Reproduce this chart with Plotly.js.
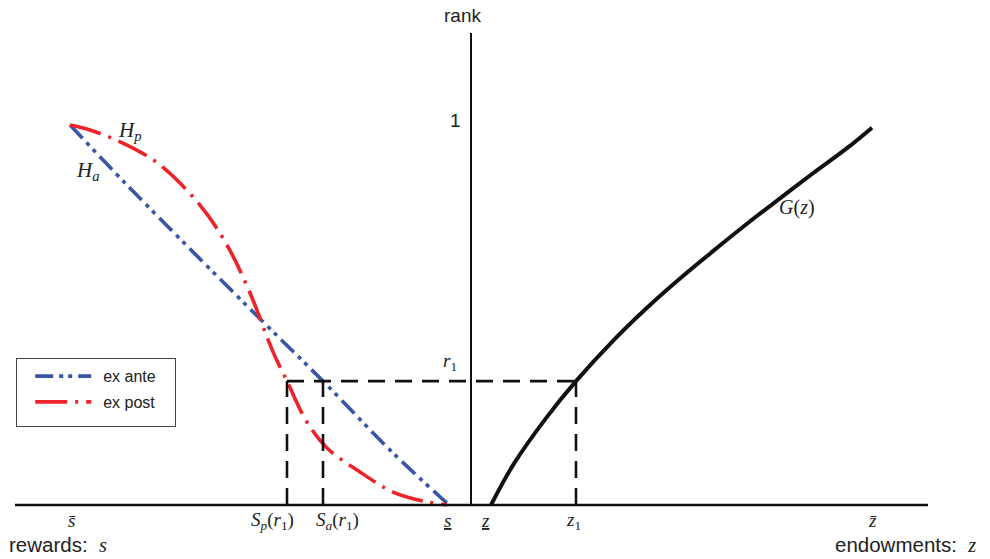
<!DOCTYPE html>
<html>
<head>
<meta charset="utf-8">
<script src="https://cdn.plot.ly/plotly-3.0.1.min.js"></script>
<style>html,body{margin:0;padding:0;background:#fff;}#chart{width:990px;height:559px;}</style>
</head>
<body>
<div id="chart"></div>
<script>
// Horizontal positions (diagram units, left = rewards s, right = endowments z)
const haS    = [70, 127, 193, 260, 323, 393, 449];
const haRank = [1.0, 0.842, 0.666, 0.490, 0.326, 0.137, 0.0];

const hpS    = [70, 90, 127, 160, 200, 227, 250, 273, 287, 307, 327, 360, 393, 427, 447];
const hpRank = [1.0, 0.987, 0.947, 0.895, 0.789, 0.684, 0.558, 0.403, 0.326, 0.218, 0.150, 0.087, 0.034, 0.008, 0.0];

const gZ     = [491, 513, 547, 576, 613, 647, 680, 713, 747, 780, 813, 847, 872];
const gRank  = [0.0, 0.105, 0.232, 0.326, 0.432, 0.519, 0.596, 0.668, 0.740, 0.807, 0.873, 0.939, 0.993];

const r1 = 0.326;
const spR1 = 287, saR1 = 323, z1 = 576;
const sBar = 72, sLow = 447, zLow = 485, zBar = 872;
const axisX = 471;

const serif = 'Liberation Serif, Times New Roman, serif';
const sans = 'Liberation Sans, Arial, Helvetica, sans-serif';

const traces = [
  {x: haS, y: haRank, mode: 'lines', name: 'ex ante', legendgroup: 'a',
   line: {color: '#3a55a4', width: 3.6, dash: '18px,6px,4px,5px,4px,6px', shape: 'spline'}},
  {x: hpS, y: hpRank, mode: 'lines', name: 'ex post', legendgroup: 'b',
   line: {color: '#ee2229', width: 3.6, dash: '32px,8px,3px,8px', shape: 'spline'}},
  {x: gZ, y: gRank, mode: 'lines', showlegend: false, line: {color: '#111', width: 4, shape: 'spline', smoothing: 1}},
  {x: [spR1, spR1, null, saR1, saR1, null, z1, z1, null, spR1, z1],
   y: [0, r1, null, 0, r1, null, 0, r1, null, r1, r1],
   mode: 'lines', showlegend: false, connectgaps: false,
   line: {color: '#111', width: 2.6, dash: '17px,10px'}}
];

function ann(x, y, text, size, font, xanchor) {
  return {x: x, y: y, xref: 'x', yref: 'y', text: text, showarrow: false,
          xanchor: xanchor || 'center', yanchor: 'middle',
          font: {family: font, size: size, color: '#222'}};
}

const yLab = -0.042;
const annotations = [
  ann(axisX - 9, 1.287, 'rank', 19, sans),
  ann(463, 1.013, '1', 19, sans, 'right'),
  ann(450, 0.376, '<i>r</i><sub>1</sub>', 19, serif),
  ann(130, 0.985, '<i>H</i><sub><i>p</i></sub>', 21, serif),
  ann(88, 0.880, '<i>H</i><sub><i>a</i></sub>', 21, serif),
  ann(797, 0.784, '<i>G</i>(<i>z</i>)', 20, serif),
  ann(sBar, yLab, '<i>s\u0304</i>', 19, serif),
  ann(272, yLab, '<i>S</i><sub><i>p</i></sub>(<i>r</i><sub>1</sub>)', 19, serif),
  ann(337, yLab, '<i>S</i><sub><i>a</i></sub>(<i>r</i><sub>1</sub>)', 19, serif),
  ann(sLow, yLab, '<u><i>s</i></u>', 19, serif),
  ann(zLow, yLab, '<u><i>z</i></u>', 19, serif),
  ann(573, yLab, '<i>z</i><sub>1</sub>', 19, serif),
  ann(zBar, yLab, '<i>z\u0304</i>', 19, serif),
  ann(7, -0.103, 'rewards:  <i><span style="font-family:Liberation Serif">s</span></i>', 20.5, sans, 'left'),
  ann(978, -0.103, 'endowments:  <i><span style="font-family:Liberation Serif">z</span></i>', 20.5, sans, 'right')
];

const layout = {
  width: 990, height: 559,
  margin: {l: 0, r: 0, t: 0, b: 0},
  paper_bgcolor: '#fff', plot_bgcolor: '#fff',
  xaxis: {range: [0, 990], showgrid: false, zeroline: false, showticklabels: false, showline: false, ticks: ''},
  yaxis: {range: [-0.14211, 1.32895], showgrid: false, zeroline: false, showticklabels: false, showline: false, ticks: ''},
  showlegend: true,
  legend: {x: 16/990, y: 1 - 358/559, xanchor: 'left', yanchor: 'top',
           bordercolor: '#444', borderwidth: 1.2, bgcolor: '#fff',
           traceorder: 'grouped', tracegroupgap: 2,
           font: {family: sans, size: 16, color: '#222'}, itemwidth: 76},
  shapes: [
    {type: 'line', xref: 'x', yref: 'y', x0: 15, x1: 928, y0: 0, y1: 0, line: {color: '#111', width: 2.5}},
    {type: 'line', xref: 'x', yref: 'y', x0: axisX, x1: axisX, y0: 0, y1: 1.242, line: {color: '#111', width: 2}}
  ],
  annotations: annotations
};

Plotly.newPlot('chart', traces, layout, {displayModeBar: false, staticPlot: true}).then(function (gd) {
  // lengthen the legend line samples and widen the key box to match the reference
  gd.querySelectorAll('.legend .legendlines path').forEach(function (p) {
    p.setAttribute('d', 'M18,0h56');
  });
  const bg = gd.querySelector('.legend rect.bg');
  if (bg) { bg.setAttribute('width', 159); bg.setAttribute('height', 68); }
});
</script>
</body>
</html>
